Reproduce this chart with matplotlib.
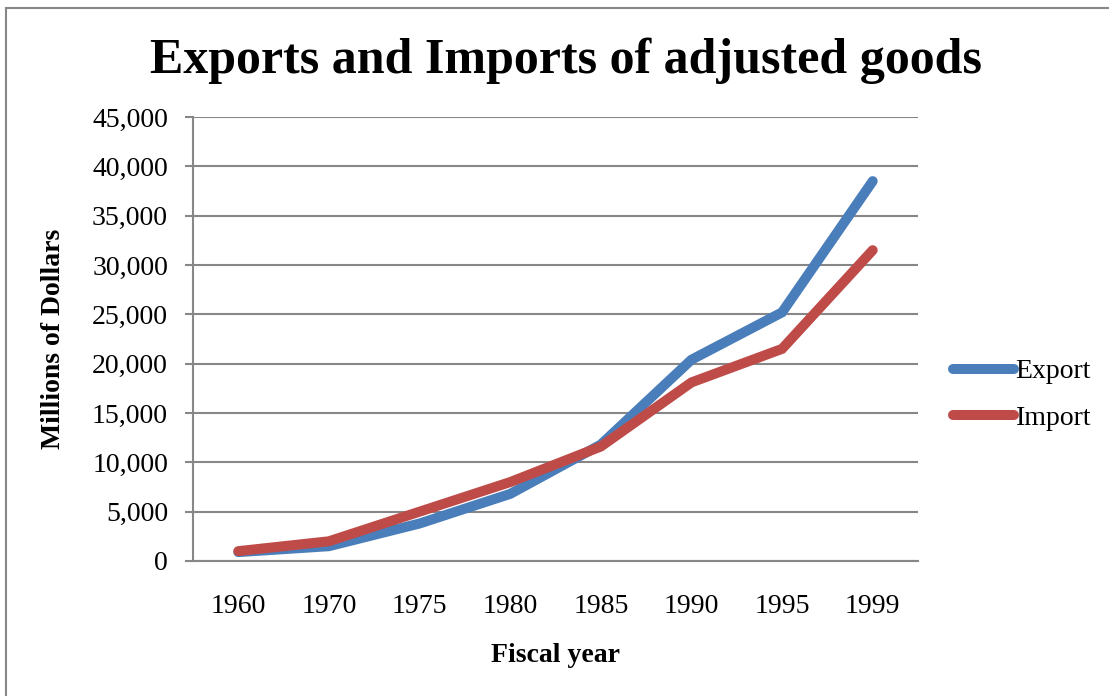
import matplotlib
matplotlib.use("Agg")
import matplotlib.pyplot as plt
from matplotlib.lines import Line2D
from matplotlib.ticker import FuncFormatter

# Dados (milhões de dólares)
anos = ['1960', '1970', '1975', '1980', '1985', '1990', '1995', '1999']
export = [900, 1500, 3800, 6800, 11800, 20400, 25200, 38500]
imports = [1000, 2000, 5000, 8000, 11600, 18100, 21500, 31500]
y_ticks = [0, 5000, 10000, 15000, 20000, 25000, 30000, 35000, 40000, 45000]

plt.rcParams['font.family'] = ['Liberation Serif', 'DejaVu Serif']
cinza = '#878787'
azul = '#4A7EBB'
vermelho = '#BE4B48'

fig = plt.figure(figsize=(11.09, 6.96), dpi=100)
ax = fig.add_axes([193/1109, 1-561/696, 725/1109, 444/696])

x = list(range(len(anos)))
ax.plot(x, export, color=azul, lw=7.2, solid_capstyle='round', solid_joinstyle='miter', label='Export')
ax.plot(x, imports, color=vermelho, lw=7.2, solid_capstyle='round', solid_joinstyle='miter', label='Import')

ax.set_xlim(-0.5, len(anos) - 0.5)
ax.set_ylim(0, 45000)
ax.set_xticks(x)
ax.set_xticklabels(anos)
ax.set_yticks(y_ticks)
ax.yaxis.set_major_formatter(FuncFormatter(lambda v, p: f'{int(v):,}'))

ax.grid(axis='y', color=cinza, lw=1.5)
ax.set_axisbelow(True)
for s in ['top', 'right']:
    ax.spines[s].set_visible(False)
for s in ['left', 'bottom']:
    ax.spines[s].set_color(cinza)
    ax.spines[s].set_linewidth(1.5)
ax.tick_params(axis='y', length=6, width=1.5, color=cinza, pad=12, labelsize=20)
ax.tick_params(axis='x', length=0, pad=24, labelsize=20)

fig.text(566/1109, 1-61/696, 'Exports and Imports of adjusted goods',
         ha='center', va='center', fontsize=36, fontweight='bold')
fig.text(54/1109, 1-339/696, 'Millions of Dollars', rotation=90,
         ha='center', va='center', fontsize=20, fontweight='bold')
fig.text(555/1109, 1-655/696, 'Fiscal year',
         ha='center', va='center', fontsize=20, fontweight='bold')

fig.legend(loc='center left', bbox_to_anchor=(953/1109, 1-395/696), frameon=False,
           fontsize=20, handlelength=2.2, handletextpad=0.05, labelspacing=0.76,
           borderpad=0, borderaxespad=0)

# Moldura do gráfico (só topo e esquerda aparecem)
fig.add_artist(Line2D([5.5/1109, 5.5/1109], [0, 1-7.5/696], color=cinza, lw=1.5, transform=fig.transFigure))
fig.add_artist(Line2D([5.5/1109, 1], [1-7.5/696, 1-7.5/696], color=cinza, lw=1.5, transform=fig.transFigure))

fig.savefig('out.png', dpi=100)
